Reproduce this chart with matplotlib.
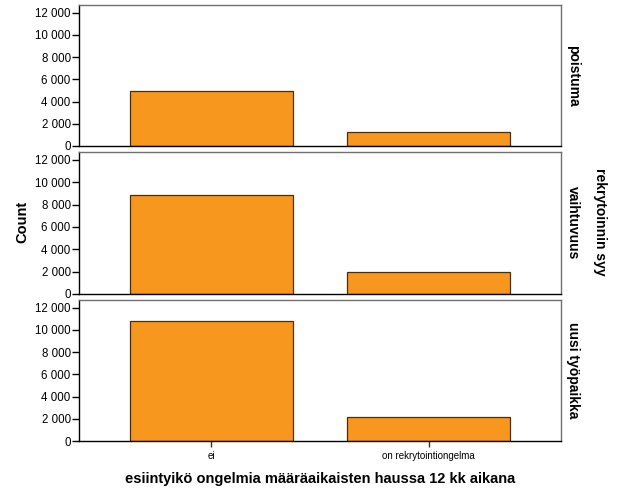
import matplotlib
matplotlib.use("Agg")
import matplotlib.pyplot as plt
from matplotlib.ticker import FuncFormatter

plt.rcParams['font.family'] = ['Liberation Sans', 'DejaVu Sans']

categories = ["ei", "on rekrytointiongelma"]
panels = ["poistuma", "vaihtuvuus", "uusi työpaikka"]
counts = {
    "poistuma": [4970, 1290],
    "vaihtuvuus": [8840, 1970],
    "uusi työpaikka": [10830, 2150],
}
yticks = [0, 2000, 4000, 6000, 8000, 10000, 12000]

fig = plt.figure(figsize=(6.26, 5.01), dpi=100)
left, width = 79 / 626, 482 / 626
tops_bottoms = [(5, 146), (152, 294), (300, 441)]

fmt = FuncFormatter(lambda v, p: f"{int(v):,}".replace(",", " "))

axes = []
for i, (name, (t, b)) in enumerate(zip(panels, tops_bottoms)):
    ax = fig.add_axes([left, 1 - b / 501, width, (b - t) / 501])
    xs = range(len(categories))
    ax.bar(xs, counts[name], width=0.75, color='#F7971E', edgecolor='#4a2e0c', linewidth=0.9, zorder=2)
    ax.set_xlim(-0.61, 1.61)
    ax.set_ylim(0, 12700)
    ax.set_yticks(yticks)
    ax.yaxis.set_major_formatter(fmt)
    ax.tick_params(axis='y', direction='out', length=5, width=1, labelsize=8.3, pad=1, color='black')
    for s in ['left', 'bottom']:
        ax.spines[s].set_color('black')
        ax.spines[s].set_linewidth(1)
    for s in ['top', 'right']:
        ax.spines[s].set_color('#707070')
        ax.spines[s].set_linewidth(1)
    ax.set_xticks(list(xs))
    if i == 2:
        ax.set_xticklabels(categories, fontsize=7)
        ax.tick_params(axis='x', direction='out', length=4, width=1, color='#333333', pad=3)
    else:
        ax.tick_params(axis='x', length=0, labelbottom=False)
    ax.text(1.025, 0.5, name, transform=ax.transAxes, rotation=-90, ha='center', va='center',
            fontsize=10, fontweight='bold')
    axes.append(ax)

fig.text(22 / 626, 1 - 222 / 501, "Count", rotation=90, ha='center', va='center', fontsize=10.5, fontweight='bold')
fig.text(600 / 626, 1 - 222 / 501, "rekrytoinnin syy", rotation=-90, ha='center', va='center', fontsize=10, fontweight='bold')
fig.text(320 / 626, 1 - 479 / 501, "esiintyikö ongelmia määräaikaisten haussa 12 kk aikana", ha='center', va='center',
         fontsize=10.5, fontweight='bold')

fig.savefig("out.png", dpi=100)
